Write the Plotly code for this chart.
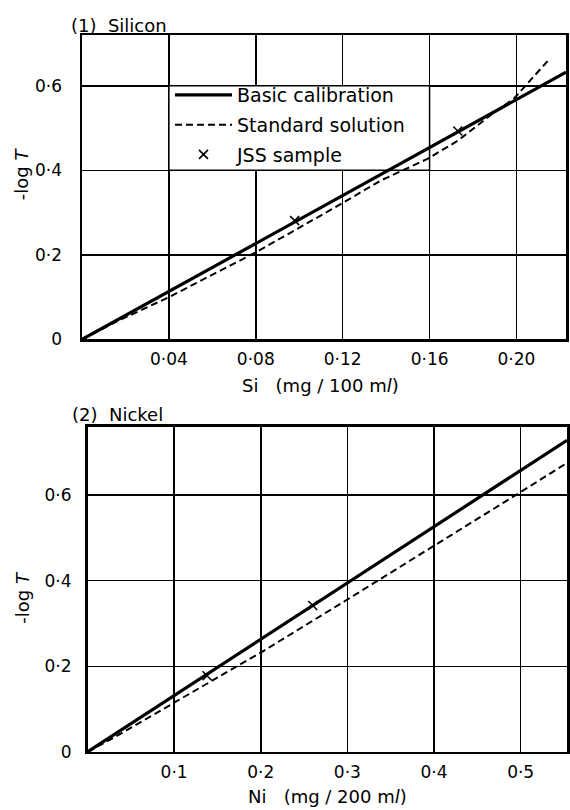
import plotly.graph_objects as go

# ---- data: (1) Silicon ----
si_basic_x = [0.0, 0.2228]
si_basic_y = [0.0, 0.632]
si_std_x = [0.0, 0.015, 0.04, 0.08, 0.115, 0.138, 0.159, 0.173, 0.1885, 0.199, 0.2146]
si_std_y = [0.0, 0.040, 0.100, 0.206, 0.308, 0.377, 0.427, 0.470, 0.532, 0.5705, 0.66]
si_jss_x = [0.0979, 0.173]
si_jss_y = [0.281, 0.493]
si_xticks = [0.04, 0.08, 0.12, 0.16, 0.20]
si_xticktext = ["0·04", "0·08", "0·12", "0·16", "0·20"]

# ---- data: (2) Nickel ----
ni_basic_x = [0.0, 0.5535]
ni_basic_y = [0.0, 0.728]
ni_std_x = [0.0, 0.03, 0.1, 0.2, 0.3, 0.4, 0.5, 0.5535]
ni_std_y = [0.0, 0.033, 0.115, 0.232, 0.356, 0.481, 0.607, 0.675]
ni_jss_x = [0.138, 0.26]
ni_jss_y = [0.178, 0.342]
ni_xticks = [0.1, 0.2, 0.3, 0.4, 0.5]
ni_xticktext = ["0·1", "0·2", "0·3", "0·4", "0·5"]

yticks = [0, 0.2, 0.4, 0.6]
yticktext = ["0", "0·2", "0·4", "0·6"]

FONT = "DejaVu Sans"
W, H = 570, 821          # captured region is slightly taller than 810
REF_W, REF_H = 570, 810  # reference coordinates


def fx(px):
    return px / REF_W


def fy(py):
    return 1 - py / REF_H


fig = go.Figure()

solid = dict(color="black", width=3.2)
dashed = dict(color="black", width=2, dash="7px,4px")
xmark = dict(symbol="x-thin", size=9, color="black", line=dict(color="black", width=1.6))

fig.add_trace(go.Scatter(x=si_basic_x, y=si_basic_y, mode="lines", line=solid,
                         name="Basic calibration", legendgroup="a", xaxis="x", yaxis="y"))
fig.add_trace(go.Scatter(x=si_std_x, y=si_std_y, mode="lines", line=dashed,
                         name="Standard solution", legendgroup="b", xaxis="x", yaxis="y"))
fig.add_trace(go.Scatter(x=si_jss_x, y=si_jss_y, mode="markers", marker=xmark,
                         name="JSS sample", legendgroup="c", xaxis="x", yaxis="y"))

fig.add_trace(go.Scatter(x=ni_basic_x, y=ni_basic_y, mode="lines", line=solid,
                         showlegend=False, xaxis="x2", yaxis="y2"))
fig.add_trace(go.Scatter(x=ni_std_x, y=ni_std_y, mode="lines", line=dashed,
                         showlegend=False, xaxis="x2", yaxis="y2"))
fig.add_trace(go.Scatter(x=ni_jss_x, y=ni_jss_y, mode="markers", marker=xmark,
                         showlegend=False, xaxis="x2", yaxis="y2"))

axis_common = dict(showline=True, mirror=True, linecolor="black", linewidth=2.5,
                   showgrid=True, gridcolor="black", gridwidth=1.5, zeroline=False,
                   ticks="", tickfont=dict(family=FONT, size=17, color="black"),
                   tickmode="array", fixedrange=True)

fig.update_layout(
    width=W, height=H, autosize=False,
    margin=dict(l=0, r=0, t=0, b=0),
    paper_bgcolor="white", plot_bgcolor="white",
    font=dict(family=FONT, color="black"),
    xaxis=dict(domain=[fx(82), fx(566)], range=[0, 0.2228], tickvals=si_xticks,
               ticktext=si_xticktext, anchor="y", ticklabelstandoff=3, **axis_common),
    yaxis=dict(domain=[fy(339), fy(35)], range=[0, 0.72], tickvals=yticks,
               ticktext=yticktext, anchor="x", ticklabelstandoff=14, **axis_common),
    xaxis2=dict(domain=[fx(87.5), fx(567)], range=[0, 0.5535], tickvals=ni_xticks,
                ticktext=ni_xticktext, anchor="y2", ticklabelstandoff=3, **axis_common),
    yaxis2=dict(domain=[fy(751), fy(426)], range=[0, 0.76], tickvals=yticks,
                ticktext=yticktext, anchor="x2", ticklabelstandoff=10, **axis_common),
    legend=dict(x=fx(170), y=fy(76), xanchor="left", yanchor="top",
                bgcolor="rgba(0,0,0,0)", borderwidth=0, itemwidth=57,
                traceorder="grouped", tracegroupgap=2,
                font=dict(family=FONT, size=19, color="black")),
    showlegend=True,
)

# white legend box spanning grid cells
fig.add_shape(type="rect", xref="x", yref="y", x0=0.04, x1=0.16, y0=0.4, y1=0.6,
              fillcolor="white", line=dict(color="black", width=1.5), layer="between")

ann_font = dict(family=FONT, size=18, color="black")
annotations = [
    dict(text="(1)  Silicon", x=fx(70), y=fy(25), xanchor="left", yanchor="middle"),
    dict(text="(2)  Nickel", x=fx(71), y=fy(414), xanchor="left", yanchor="middle"),
    dict(text="Si   (mg / 100 m<i>l</i>)", x=fx(320), y=fy(385), xanchor="center", yanchor="middle"),
    dict(text="Ni   (mg / 200 m<i>l</i>)", x=fx(327), y=fy(796), xanchor="center", yanchor="middle"),
    dict(text="-log <i>T</i>", x=fx(21), y=fy(173), xanchor="center", yanchor="middle", textangle=-90),
    dict(text="-log <i>T</i>", x=fx(23), y=fy(597), xanchor="center", yanchor="middle", textangle=-90),
]
for a in annotations:
    fig.add_annotation(xref="paper", yref="paper", showarrow=False, font=ann_font,
                       borderpad=0, **a)

post = (
    "document.documentElement.style.margin='0';"
    "document.documentElement.style.overflow='hidden';"
    "document.body.style.margin='0';"
    "document.body.style.overflow='hidden';"
)

fig.write_html("out.html", config={"staticPlot": True, "displayModeBar": False},
               post_script=post)
